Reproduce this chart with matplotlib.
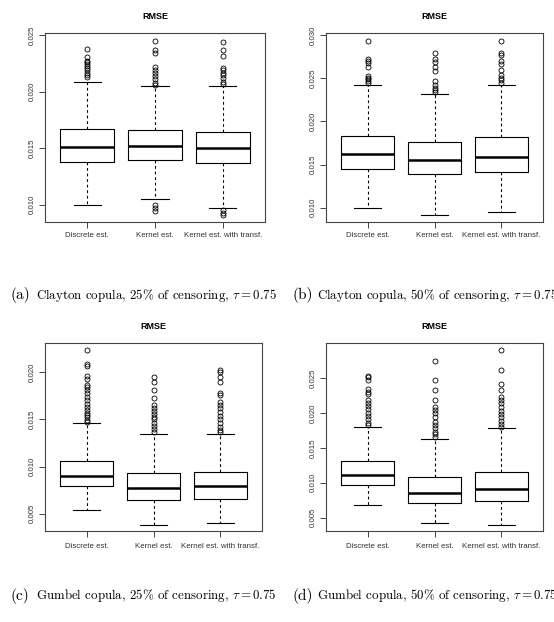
import matplotlib
matplotlib.use("Agg")
import matplotlib.pyplot as plt

plt.rcParams['font.family'] = ['Liberation Sans', 'DejaVu Sans']
plt.rcParams['mathtext.fontset'] = 'cm'

methods = ["Discrete est.", "Kernel est.", "Kernel est. with transf."]

# (a) Clayton, 25% censoring
a_med = [0.01507, 0.01522, 0.01501]
a_q1 = [0.01382, 0.01394, 0.01365]
a_q3 = [0.01670, 0.01658, 0.01640]
a_lo = [0.01000, 0.01053, 0.00973]
a_hi = [0.02085, 0.02050, 0.02050]
a_fliers = [
    [0.0238, 0.0231, 0.0227, 0.0226, 0.0225, 0.0223, 0.0221, 0.0219, 0.0217, 0.0215, 0.0213],
    [0.0245, 0.0237, 0.0234, 0.0222, 0.0219, 0.0217, 0.0214, 0.0211, 0.0208, 0.0206,
     0.00994, 0.00967, 0.00944],
    [0.0244, 0.0237, 0.0232, 0.0221, 0.0219, 0.0217, 0.0215, 0.0212, 0.0209, 0.0207,
     0.00950, 0.00929, 0.00905],
]

# (b) Clayton, 50% censoring
b_med = [0.01617, 0.01548, 0.01592]
b_q1 = [0.01447, 0.01388, 0.01410]
b_q3 = [0.01835, 0.01757, 0.01820]
b_lo = [0.01000, 0.00911, 0.00951]
b_hi = [0.02425, 0.02320, 0.02425]
b_fliers = [
    [0.02938, 0.02728, 0.02705, 0.02678, 0.02627, 0.0253, 0.0251, 0.0249, 0.0247, 0.0245],
    [0.02794, 0.02724, 0.02685, 0.0263, 0.02588, 0.02464, 0.02425, 0.02394, 0.02367, 0.02344],
    [0.02935, 0.02794, 0.02775, 0.02705, 0.02666, 0.02592, 0.02538, 0.02503, 0.02476, 0.02452],
]

# (c) Gumbel, 25% censoring
c_med = [0.00902, 0.00777, 0.00791]
c_q1 = [0.00788, 0.00649, 0.00656]
c_q3 = [0.01058, 0.00930, 0.00944]
c_lo = [0.00539, 0.00379, 0.00404]
c_hi = [0.01463, 0.01346, 0.01346]
c_fliers = [
    [0.02235, 0.02092, 0.02064, 0.01957, 0.01932, 0.01868, 0.01844, 0.01815, 0.0178, 0.01744,
     0.01709, 0.01666, 0.01637, 0.01602, 0.01573, 0.01549, 0.01524, 0.01495, 0.01477],
    [0.01947, 0.01897, 0.01815, 0.01726, 0.01655, 0.0162, 0.01591, 0.01559, 0.01531, 0.01506,
     0.01467, 0.01431, 0.01399, 0.01371],
    [0.02028, 0.0200, 0.0195, 0.0190, 0.0178, 0.01762, 0.01691, 0.01655, 0.0162, 0.01584,
     0.01541, 0.01506, 0.0146, 0.01424, 0.01389, 0.01367],
]

# (d) Gumbel, 50% censoring
d_med = [0.01114, 0.00860, 0.00917]
d_q1 = [0.00970, 0.00706, 0.00735]
d_q3 = [0.01306, 0.01076, 0.01152]
d_lo = [0.00687, 0.00428, 0.00394]
d_hi = [0.01800, 0.01622, 0.01790]
d_fliers = [
    [0.02534, 0.0251, 0.02476, 0.02342, 0.02308, 0.0227, 0.02188, 0.0214, 0.02102, 0.02054,
     0.02006, 0.01958, 0.0191, 0.01862, 0.01824],
    [0.02745, 0.02471, 0.02327, 0.02188, 0.02092, 0.02044, 0.01996, 0.01948, 0.01876, 0.01828,
     0.0178, 0.01732, 0.01694, 0.01661],
    [0.02898, 0.0262, 0.02423, 0.02332, 0.02236, 0.02188, 0.0214, 0.02083, 0.02035, 0.01987,
     0.01939, 0.01891, 0.01843, 0.01805],
]

captions = [
    ("(a)", r"Clayton copula, 25% of censoring, $\tau = 0.75$"),
    ("(b)", r"Clayton copula, 50% of censoring, $\tau = 0.75$"),
    ("(c)", r"Gumbel copula, 25% of censoring, $\tau = 0.75$"),
    ("(d)", r"Gumbel copula, 50% of censoring, $\tau = 0.75$"),
]

panels = [
    (a_med, a_q1, a_q3, a_lo, a_hi, a_fliers, [0.010, 0.015, 0.020, 0.025], (0.00846, 0.02521)),
    (b_med, b_q1, b_q3, b_lo, b_hi, b_fliers, [0.010, 0.015, 0.020, 0.025, 0.030], (0.00833, 0.03027)),
    (c_med, c_q1, c_q3, c_lo, c_hi, c_fliers, [0.005, 0.010, 0.015, 0.020], (0.00315, 0.02313)),
    (d_med, d_q1, d_q3, d_lo, d_hi, d_fliers, [0.005, 0.010, 0.015, 0.020, 0.025], (0.00308, 0.03004)),
]

# axes rectangles in pixels: left, top, right, bottom
W, H = 554, 622
rects = [(45, 33, 265, 222), (326, 33, 543, 222), (45, 343, 262, 531), (326, 343, 543, 531)]
cap_pos = [(11, 295), (292, 295), (11, 596), (292, 596)]

fig = plt.figure(figsize=(W / 100, H / 100), dpi=100)

for k, (med, q1, q3, lo, hi, fl, yt, ylim) in enumerate(panels):
    l, t, r, b = rects[k]
    ax = fig.add_axes([l / W, 1 - b / H, (r - l) / W, (b - t) / H])
    stats = []
    for i in range(3):
        stats.append(dict(med=med[i], q1=q1[i], q3=q3[i], whislo=lo[i], whishi=hi[i],
                          fliers=fl[i], label=methods[i]))
    ax.bxp(stats, positions=[1, 2, 3], widths=0.8, showfliers=True,
           boxprops=dict(color='black', linewidth=0.8),
           medianprops=dict(color='black', linewidth=1.8),
           whiskerprops=dict(color='black', linewidth=0.8, linestyle=(0, (2.5, 2.5))),
           capprops=dict(color='black', linewidth=0.8),
           capwidths=0.4,
           flierprops=dict(marker='o', markerfacecolor='none', markeredgecolor='black',
                           markersize=3.6, markeredgewidth=0.6))
    ax.set_xlim(0.38, 3.62)
    ax.set_ylim(*ylim)
    ax.set_yticks(yt)
    ax.set_yticklabels(["%.3f" % v for v in yt], rotation=90, va='center', fontsize=5.7,
                       color='#333333')
    ax.set_xticks([1, 2, 3])
    if k < 2:
        ax.set_xticklabels(methods, fontsize=5.7, color='#333333')
    else:
        ax.set_xticklabels(["", "", ""])
    ax.tick_params(length=4, width=0.7, color='#444444', pad=3)
    for s in ax.spines.values():
        s.set_linewidth(0.8)
        s.set_color('#444444')
    ax.set_title("RMSE", fontsize=6.5, fontweight='bold', pad=10)

    lab, txt = captions[k]
    x0, y0 = cap_pos[k]
    fig.text(x0 / W, 1 - y0 / H, lab, fontsize=11, family='cmr10', va='center', ha='left')
    fig.text((x0 + 25) / W, 1 - y0 / H, txt, fontsize=9.3, family='cmr10', va='center', ha='left')

# x labels for lower row drawn below the axes
for k in (2, 3):
    l, t, r, b = rects[k]
    for i in range(3):
        fig.text((l + (r - l) * (i + 1 - 0.38) / 3.24) / W, 1 - 546 / H, methods[i],
                 fontsize=5.7, color='#333333', ha='center', va='center')

fig.savefig("out.png", dpi=100)
